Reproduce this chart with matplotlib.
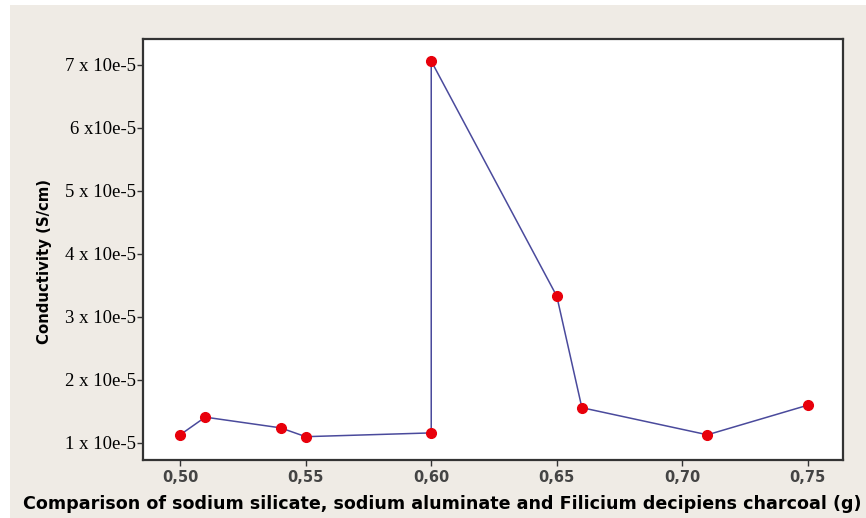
import matplotlib.pyplot as plt
from matplotlib.patches import Rectangle

# mass (g) vs conductivity (in units of 1e-5 S/cm)
mass = [0.50, 0.51, 0.54, 0.55, 0.60, 0.60, 0.65, 0.66, 0.71, 0.75]
conductivity = [1.13, 1.41, 1.24, 1.10, 1.16, 7.06, 3.33, 1.56, 1.13, 1.60]

y_ticks = [1, 2, 3, 4, 5, 6, 7]
y_tick_labels = ["1 x 10e-5", "2 x 10e-5", "3 x 10e-5", "4 x 10e-5",
                 "5 x 10e-5", "6 x10e-5", "7 x 10e-5"]
x_ticks = [0.50, 0.55, 0.60, 0.65, 0.70, 0.75]
x_tick_labels = ["0,50", "0,55", "0,60", "0,65", "0,70", "0,75"]

fig = plt.figure(figsize=(8.66, 5.18), dpi=100, facecolor="white")
fig.patches.append(Rectangle((10 / 866, 0), 1, 1 - 5 / 518, transform=fig.transFigure,
                             facecolor="#efebe5", edgecolor="none", zorder=-10))
ax = fig.add_axes([143 / 866, 58 / 518, 700 / 866, 421 / 518])

ax.plot(mass, conductivity, color="#4a4a9c", linewidth=1.1, zorder=2)
ax.plot(mass, conductivity, "o", color="#e8000b", markersize=7, zorder=3)

ax.set_xlim(0.4852, 0.764)
ax.set_ylim(0.73, 7.41)
ax.set_yticks(y_ticks)
ax.set_yticklabels(y_tick_labels, family="Liberation Serif", fontsize=13.5)
ax.set_xticks(x_ticks)
ax.set_xticklabels(x_tick_labels, family="DejaVu Sans", fontsize=10.5,
                   fontweight="bold", color="#444444")
ax.tick_params(direction="out", length=4, width=1, color="#333333")
ax.tick_params(axis="y", pad=1)

for s in ax.spines.values():
    s.set_linewidth(1.6)
    s.set_color("#333333")

fig.text(45 / 866, 1 - 262 / 518, "Conductivity (S/cm)", family="DejaVu Sans",
         fontsize=10.7, fontweight="bold", rotation=90, ha="center", va="center")
fig.text(442 / 866, 1 - 509 / 518,
         "Comparison of sodium silicate, sodium aluminate and Filicium decipiens charcoal (g)",
         family="DejaVu Sans", fontsize=12.6, fontweight="bold", ha="center", va="baseline")

fig.savefig("out.png", dpi=100, facecolor=fig.get_facecolor())
